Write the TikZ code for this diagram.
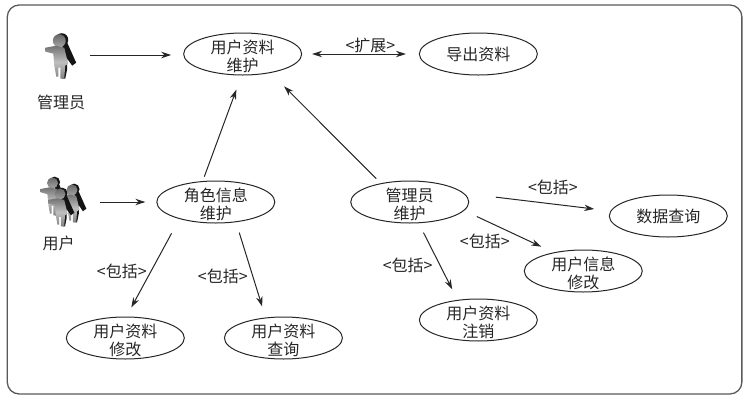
\documentclass[tikz,border=0pt]{standalone}
\usepackage{fontspec}
\setmainfont{Noto Sans CJK SC}
\usetikzlibrary{arrows.meta,shapes.geometric}
\newcommand\toplift{\rule{0pt}{19pt}}
\tikzset{
  usecase/.style={ellipse,draw=black!85,line width=1pt,minimum width=118pt,minimum height=42pt,inner xsep=0pt,inner ysep=-6pt,align=center,font=\fontsize{16}{18}\selectfont,text=black!85},
  lbl/.style={inner sep=0pt,font=\fontsize{16}{18}\selectfont,text=black!85},
  conn/.style={line width=1pt,draw=black!85,-{Stealth[length=10pt,width=6.5pt]}},
  pics/actor/.style={code={
    \fill[black!92] (2.5,-1) circle (6.5);
    \fill[black!92] (3,3) -- (8,2) -- (17,22) -- (13,25) -- (8,18) -- (8,28) -- (6,38) -- (3,38) -- cycle;
    \shade[top color=black!60,bottom color=black!35] (0,0) circle (6.5);
    \shade[top color=black!55,bottom color=black!50,middle color=black!25]
      (-3,5) -- (-14,7) -- (-14,11) -- (-6,13) -- (-5,25) -- (-3,36) -- (-1,36) -- (-1,27) -- (1,27)
      -- (1,38) -- (5,38) -- (6,25) -- (9,23) -- (5,7) -- cycle;
  }}
}
\begin{document}
\begin{tikzpicture}[x=0.9945pt,y=-1pt]
\useasboundingbox (0,0) rectangle (754.15,400);
\draw[black!65,line width=1.3pt,rounded corners=12pt] (7.3,5) rectangle (746,394);

\node[usecase] (A) at (244,54) {\toplift 用户资料\\维护};
\node[usecase] (B) at (481,54) {导出资料};
\node[usecase] (C) at (217,202) {\toplift 角色信息\\维护};
\node[usecase] (D) at (412,202) {\toplift 管理员\\维护};
\node[usecase] (E) at (672,216) {数据查询};
\node[usecase] (F) at (586.5,271) {\toplift 用户信息\\修改};
\node[usecase] (G) at (481,320) {\toplift 用户资料\\注销};
\node[usecase] (H) at (126,338) {\toplift 用户资料\\修改};
\node[usecase] (I) at (285,338) {\toplift 用户资料\\查询};

\pic at (59.6,40.7) {actor};
\pic[scale=0.85] at (72.4,190) {actor};
\pic[scale=0.85] at (52.8,183) {actor};
\pic[scale=0.85] at (60.3,194) {actor};

\node[lbl] (admin) at (61.5,102) {管理员};
\node[lbl] (user) at (59,243) {用户};
\coordinate (adminEnd) at (90,55);
\coordinate (userEnd) at (101,202);

\node[lbl] (l1) at (372.5,45) {<扩展>};
\node[lbl] (l2) at (556,187) {<包括>};
\node[lbl] (l3) at (487.5,241) {<包括>};
\node[lbl] (l4) at (410,265) {<包括>};
\node[lbl] (l5) at (122.5,271) {<包括>};
\node[lbl] (l6) at (224,276) {<包括>};

\draw[conn,shorten >=12pt] (adminEnd) -- (adminEnd -| A.west);
\draw[conn,shorten >=11pt] (userEnd) -- (C.west);
\draw[conn,{Stealth[length=10pt,width=6.5pt]}-{Stealth[length=10pt,width=6.5pt]},shorten <=10pt,shorten >=13pt] (A) -- (B);
\draw[conn,shorten <=4.7pt,shorten >=15pt] (C.122) -- (A.267.5);
\draw[conn,shorten <=6.5pt,shorten >=19pt] (D.147) -- (A.326);
\draw[conn,shorten <=16.3pt,shorten >=10.3pt] (C.205.6) -- (H.87.4);
\draw[conn,shorten <=10.8pt,shorten >=11.5pt] (C.315) -- (I.131.2);
\draw[conn,shorten <=10.4pt,shorten >=11.7pt] (D.293) -- (G.136.6);
\draw[conn,shorten <=13.9pt,shorten >=13.5pt] (D.351.5) -- (F.148);
\draw[conn,shorten <=31.8pt,shorten >=16.4pt] (D.9.3) -- (E.175);
\end{tikzpicture}
\end{document}
